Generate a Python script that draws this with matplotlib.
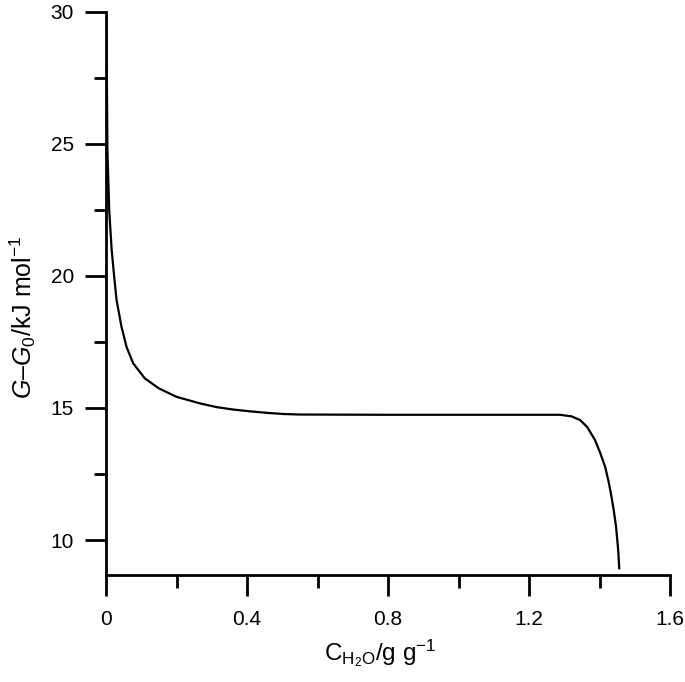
import matplotlib
matplotlib.use("Agg")
import matplotlib.pyplot as plt
from matplotlib.ticker import MultipleLocator

# Data
c_h2o = [0.001, 0.004, 0.009, 0.016, 0.023, 0.030, 0.044, 0.058, 0.077, 0.110,
         0.150, 0.200, 0.267, 0.314, 0.360, 0.409, 0.460, 0.503, 0.550, 0.800,
         1.000, 1.288, 1.321, 1.345, 1.365, 1.387, 1.402, 1.416, 1.426, 1.434,
         1.441, 1.447, 1.453, 1.456]
g_minus_g0 = [30.0, 24.8, 22.5, 21.0, 20.0, 19.08, 18.07, 17.32, 16.69, 16.12,
              15.74, 15.42, 15.17, 15.03, 14.94, 14.87, 14.81, 14.77, 14.75, 14.74,
              14.74, 14.74, 14.68, 14.54, 14.28, 13.79, 13.30, 12.77, 12.20, 11.64,
              11.07, 10.50, 9.62, 8.93]
x_ticks = [0, 0.4, 0.8, 1.2, 1.6]
x_ticklabels = ["0", "0.4", "0.8", "1.2", "1.6"]
y_ticks = [10, 15, 20, 25, 30]

plt.rcParams['font.family'] = ['Liberation Sans', 'DejaVu Sans']
plt.rcParams['mathtext.fontset'] = 'custom'
plt.rcParams['mathtext.rm'] = 'Liberation Sans'
plt.rcParams['mathtext.it'] = 'Liberation Sans:italic'
plt.rcParams['mathtext.bf'] = 'Liberation Sans:bold'

fig = plt.figure(figsize=(6.85, 6.82), dpi=100)
ax = fig.add_axes([106/685, 1 - 575/682, (670-106)/685, (575-11.7)/682])

ax.plot(c_h2o, g_minus_g0, color='black', lw=1.6, solid_joinstyle='round')

ax.set_xlim(0, 1.6)
ax.set_ylim(8.675, 30)

for s in ['top', 'right']:
    ax.spines[s].set_visible(False)
for s in ['left', 'bottom']:
    ax.spines[s].set_linewidth(2)

ax.set_xticks(x_ticks)
ax.set_xticklabels(x_ticklabels)
ax.set_yticks(y_ticks)
ax.xaxis.set_minor_locator(MultipleLocator(0.2))
ax.yaxis.set_minor_locator(MultipleLocator(2.5))
ax.tick_params(which='major', direction='out', length=15, width=2, labelsize=15, pad=10)
ax.tick_params(which='minor', direction='out', length=9, width=2)
ax.tick_params(axis='y', which='major', pad=8)

ax.set_xlabel(r'C$_{\mathrm{H_2O}}$/g g$^{-1}$', fontsize=17.5, labelpad=6)
ax.set_ylabel(r'$\mathit{G}$–$\mathit{G}_0$/kJ mol$^{-1}$', fontsize=18, labelpad=9)
ax.xaxis.label.set_x(0.486)
ax.yaxis.label.set_y(0.458)

fig.savefig('out.png', dpi=100)
